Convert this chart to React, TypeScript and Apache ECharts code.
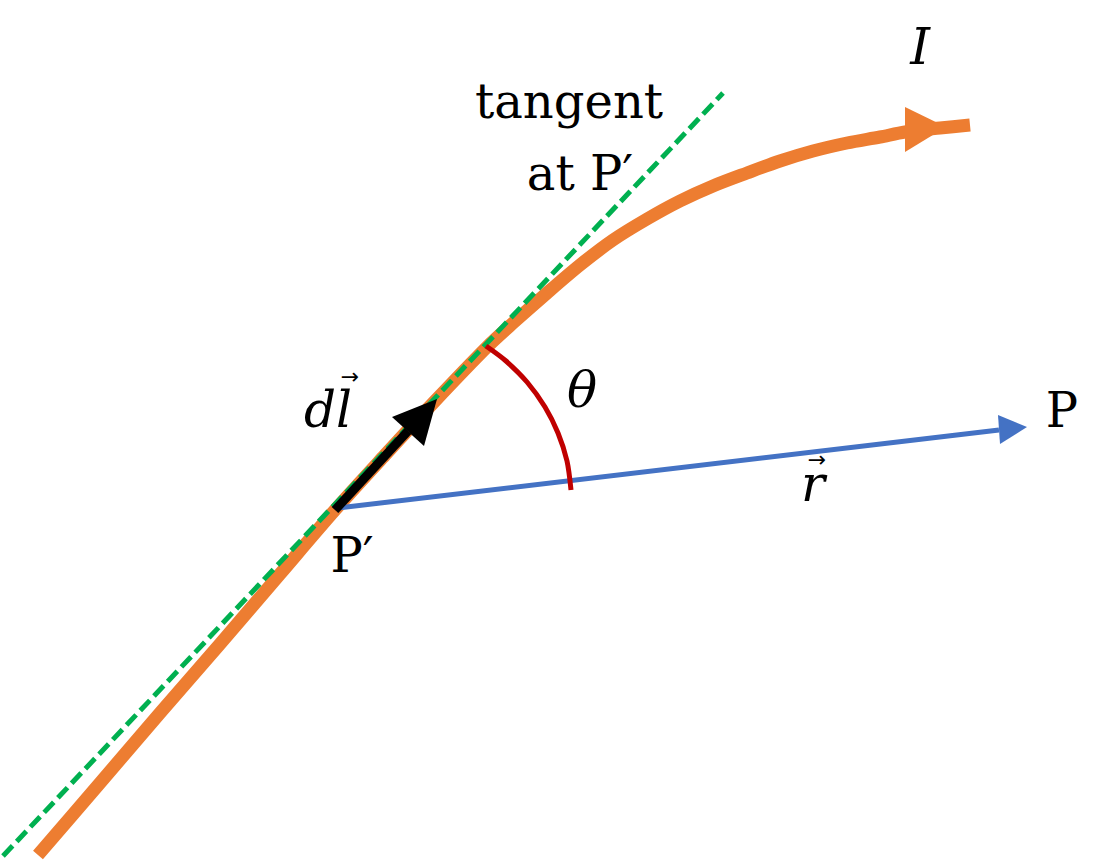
import React, { useEffect, useRef } from 'react';
import * as echarts from 'echarts';

// pixel-space diagram: x 0..1104 left to right, y 0..862 top to bottom
const currentPath: [number, number][] = [
  [38, 855], [100, 783], [160, 713], [220, 644], [280, 574], [335, 510],
  [385, 455], [435, 401], [487, 347], [513, 323], [547, 293], [580, 265],
  [613, 240], [647, 219], [680, 201], [713, 186], [747, 173], [780, 161],
  [813, 151], [847, 143], [880, 137], [905, 132], [940, 128], [970, 125],
];
const tangentLine: [number, number][] = [[3, 856], [723, 93]];
const rShaft: [number, number][] = [[338, 508], [999, 430]];
const dlShaft: [number, number][] = [[335, 510], [408, 431]];
const thetaArc: [number, number][] = [
  [486, 346], [506, 361], [527, 382], [545, 407], [558, 433], [567, 461], [571, 490],
];

const currentHead: [number, number][] = [[905, 107], [946, 127], [905, 152]];
const rHead: [number, number][] = [[998, 415], [1027, 427], [1000, 444]];
const dlHead: [number, number][] = [[392, 417], [437, 399], [424, 446]];

const plainLabels: [number, number, string][] = [
  [569, 101, 'tangent'],
  [580, 173, 'at P′'],
  [352, 555, 'P′'],
  [1062, 410, 'P'],
];
const mathLabels: [number, number, string][] = [
  [920, 47, 'I'],
  [582, 390, 'θ'],
  [328, 410, 'dl'],
  [813, 484, 'r'],
];
const vectorMarks: [number, number, string][] = [
  [350, 376, '→'],
  [817, 459, '→'],
];

const ORANGE = '#ED7D31';
const GREEN = '#00B050';
const BLUE = '#4472C4';
const RED = '#C00000';

const App: React.FC = () => {
  const chartRef = useRef<HTMLDivElement>(null);

  useEffect(() => {
    if (!chartRef.current) return;
    const chart = echarts.init(chartRef.current, undefined, { renderer: 'svg' });

    const heads = [
      { pts: currentHead, color: ORANGE },
      { pts: rHead, color: BLUE },
      { pts: dlHead, color: '#000' },
    ];

    const textSeries = (rows: [number, number, string][], style: any, z: number) => ({
      type: 'scatter',
      symbolSize: 0,
      z,
      silent: true,
      itemStyle: { opacity: 1 },
      data: rows.map(r => ({ value: [r[0], r[1]], name: r[2] })),
      label: {
        show: true,
        position: 'inside',
        formatter: (p: any) => p.name,
        color: '#000000',
        opacity: 1,
        ...style,
      },
    });

    const line = (data: [number, number][], color: string, width: number, z: number, extra: any = {}) => ({
      type: 'line',
      data,
      symbol: 'none',
      z,
      silent: true,
      clip: false,
      lineStyle: { color, width, cap: 'butt', join: 'round', ...extra },
    });

    const option = {
      animation: false,
      backgroundColor: '#fff',
      grid: { left: 0, right: 0, top: 0, bottom: 0 },
      xAxis: { type: 'value', min: 0, max: 1104, show: false },
      yAxis: { type: 'value', min: 0, max: 862, inverse: true, show: false },
      series: [
        { ...line(currentPath, ORANGE, 13, 1), smooth: 0.3 },
        line(tangentLine, GREEN, 5, 2, { type: [14, 6] }),
        line(rShaft, BLUE, 5, 3),
        { ...line(thetaArc, RED, 5, 4), smooth: 0.3 },
        line(dlShaft, '#000', 9, 5),
        {
          type: 'custom',
          z: 6,
          silent: true,
          data: heads.map(h => h.pts[1]),
          renderItem: (params: any, api: any) => {
            const h = heads[params.dataIndex];
            return {
              type: 'polygon',
              shape: { points: h.pts.map(p => api.coord(p)) },
              style: { fill: h.color },
            };
          },
        },
        textSeries(plainLabels, { fontFamily: 'DejaVu Serif', fontSize: 48 }, 10),
        textSeries(mathLabels, { fontFamily: 'DejaVu Serif', fontSize: 50, fontStyle: 'italic', lineHeight: 38 }, 10),
        textSeries(vectorMarks, { fontFamily: 'DejaVu Sans', fontSize: 22, lineHeight: 12 }, 10),
      ],
    };

    chart.setOption(option);
    return () => {
      chart.dispose();
    };
  }, []);

  return (
    <div
      ref={chartRef}
      style={{ position: 'fixed', left: 0, top: 0, width: '1104px', height: '862px', background: '#fff' }}
    ></div>
  );
};

export default App;
